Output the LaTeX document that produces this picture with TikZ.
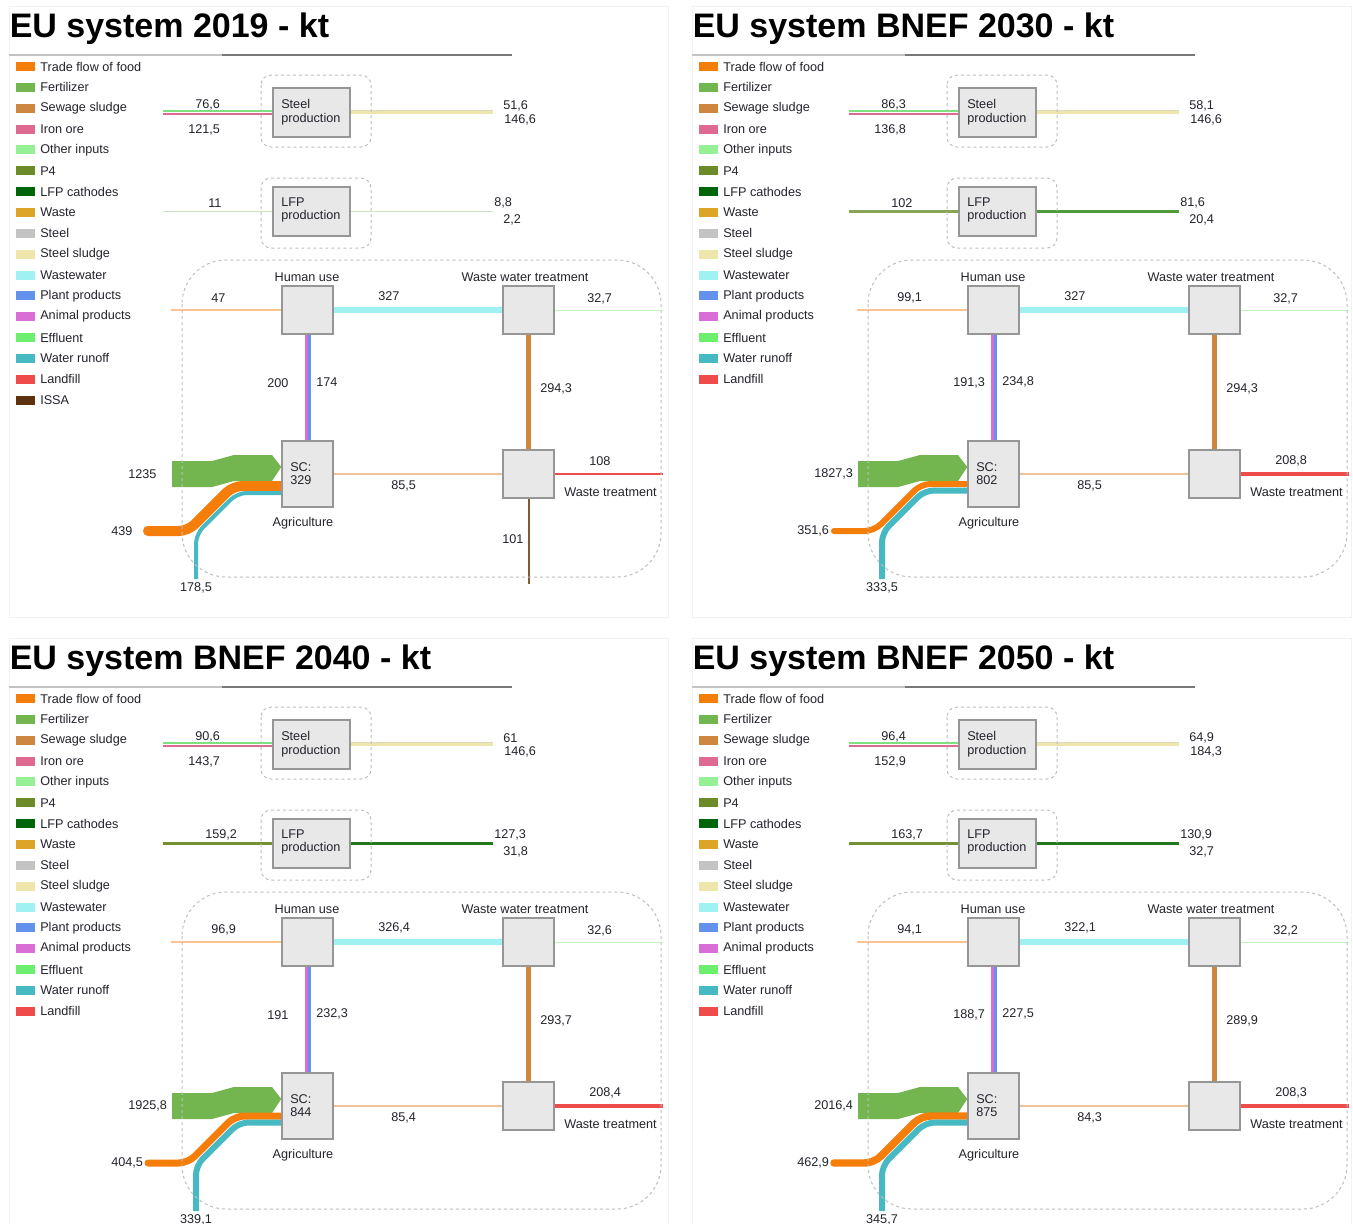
\documentclass[tikz,border=0pt]{standalone}
\usepackage{fontspec}
\setmainfont{Liberation Sans}
\usetikzlibrary{calc}
\pgfdeclarelayer{bgfill}
\pgfdeclarelayer{flows}
\pgfsetlayers{bgfill,flows,main}

\definecolor{cTrade}{RGB}{245,125,10}
\definecolor{cFert}{RGB}{115,182,80}
\definecolor{cSewage}{RGB}{205,135,65}
\definecolor{cIron}{RGB}{222,105,145}
\definecolor{cOther}{RGB}{150,240,150}
\definecolor{cOtherLine}{RGB}{125,225,125}
\definecolor{cPfour}{RGB}{107,140,40}
\definecolor{cLFP}{RGB}{0,100,10}
\definecolor{cWaste}{RGB}{220,165,40}
\definecolor{cSteel}{RGB}{195,195,195}
\definecolor{cSludge}{RGB}{238,230,170}
\definecolor{cWW}{RGB}{160,242,242}
\definecolor{cPlant}{RGB}{100,145,235}
\definecolor{cAnimal}{RGB}{218,110,215}
\definecolor{cEffl}{RGB}{110,238,110}
\definecolor{cRunoff}{RGB}{70,185,195}
\definecolor{cLandfill}{RGB}{240,75,75}
\definecolor{cISSA}{RGB}{95,50,15}
\definecolor{cFoodL}{RGB}{250,195,145}
\definecolor{cAgWT}{RGB}{238,195,155}
\definecolor{cEffL}{RGB}{195,245,195}
\definecolor{cLFPpale}{RGB}{205,228,190}
\definecolor{cISSAline}{RGB}{130,90,50}
\definecolor{cBoxFill}{RGB}{232,232,232}
\definecolor{cBoxLine}{RGB}{150,150,150}
\definecolor{cDash}{RGB}{190,190,190}
\definecolor{cText}{RGB}{35,35,45}
\definecolor{cRuleA}{RGB}{195,195,195}
\definecolor{cRuleB}{RGB}{120,120,120}
\definecolor{cFrame}{RGB}{242,242,242}
\definecolor{cSteelOut}{RGB}{222,218,190}

\tikzset{
  procbox/.style={draw=cBoxLine, fill=cBoxFill, line width=1.1pt, inner sep=0pt},
  smallbox/.style={procbox, minimum width=38.25pt, minimum height=36pt},
  prodbox/.style={procbox, minimum width=57.75pt, minimum height=36.75pt},
  agbox/.style={procbox, minimum width=38.25pt, minimum height=49.5pt},
  numlbl/.style={font=\fontsize{9.5}{11}\selectfont, text=cText, inner sep=0pt, anchor=west},
  boxlbl/.style={numlbl, align=left, font=\fontsize{9.5}{10.2}\selectfont},
  namelbl/.style={font=\fontsize{9.5}{11}\selectfont, text=cText, inner sep=0pt},
  legtext/.style={numlbl},
  titletext/.style={font=\fontsize{25.5}{28}\selectfont\bfseries, text=black, inner sep=0pt},
  dashframe/.style={draw=cDash, dash pattern=on 2.25pt off 2.25pt, line width=0.75pt},
}

\newcommand\drawpanel[4]{%
\begin{scope}[shift={(#2,#3)}]
\draw[cFrame, line width=0.75pt] (9,6) rectangle (668,617);
\node[titletext, anchor=base west] (#1title) at (9.5,37) {\pTitle};
\draw[cRuleA, line width=1.5pt] (9,55) -- (222,55);
\draw[cRuleB, line width=1.5pt] (222,55) -- (512,55);
\foreach \c/\t [count=\i from 0] in {cTrade/Trade flow of food,cFert/Fertilizer,cSewage/Sewage sludge,cIron/Iron ore,cOther/Other inputs,cPfour/P4,cLFP/LFP cathodes,cWaste/Waste,cSteel/Steel,cSludge/Steel sludge,cWW/Wastewater,cPlant/Plant products,cAnimal/Animal products,cEffl/Effluent,cRunoff/Water runoff,cLandfill/Landfill}{
  \fill[\c] (16,{66.5+20.85*\i-4.5}) rectangle (35,{66.5+20.85*\i+4.5});
  \node[legtext] (#1leg\i) at (40,{66.5+20.85*\i}) {\t};
}
\ifnum\pISSA=1
  \fill[cISSA] (16,{66.5+20.85*16-4.5}) rectangle (35,{66.5+20.85*16+4.5});
  \node[legtext] (#1leg16) at (40,{66.5+20.85*16}) {ISSA};
\fi
\begin{scope}[shift={(#4,0)}]
\draw[dashframe, rounded corners=7.5pt] (261,75) rectangle (371,147);
\draw[dashframe, rounded corners=7.5pt] (261,178) rectangle (371,248);
\draw[dashframe, rounded corners=33pt] (182,260) rectangle (661,577);
\node[prodbox] (#1steel) at (311.5,112.5) {};
\node[boxlbl] (#1steelt) at (281,112) {Steel\\production};
\node[prodbox] (#1lfp) at (311.5,211.5) {};
\node[boxlbl] (#1lfpt) at (281,210) {LFP\\production};
\node[smallbox] (#1hu) at (307.5,310) {};
\node[smallbox] (#1wwt) at (528.5,310) {};
\node[agbox] (#1ag) at (307.5,474) {};
\node[smallbox] (#1wt) at (528.5,474) {};
\node[namelbl] (#1hul) at (307,277) {Human use};
\node[namelbl] (#1wwtl) at (525,277) {Waste water treatment};
\node[namelbl] (#1agl) at (303,523) {Agriculture};
\node[numlbl] (#1wtl) at (564,492) {Waste treatment};
\node[boxlbl] (#1sc) at (290,473.5) {SC:\\\pSCv};
\coordinate (#1sin) at (163,112.5);
\coordinate (#1sout) at (493,112.5);
\coordinate (#1lin) at (163,211.5);
\coordinate (#1lout) at (493,211.5);
\coordinate (#1huin) at (171,310);
\coordinate (#1effout) at (663,310);
\coordinate (#1lfout) at (663,474);
\coordinate (#1issa) at (528.5,584);
\coordinate (#1trs) at (148,531);
\coordinate (#1rus) at (196,579);
\begin{pgfonlayer}{flows}
\draw[line width=1.3pt, cOtherLine] ($(#1sin)+(0,-1.2)$) -- ($(#1steel.west)+(0,-1.2)$);
\draw[line width=1.5pt, cIron] ($(#1sin)+(0,1)$) -- ($(#1steel.west)+(0,1)$);
\draw[line width=0.8pt, cSteelOut] ($(#1steel.east)+(0,-1.8)$) -- ($(#1sout)+(0,-1.8)$);
\draw[line width=2.4pt, cSludge] ($(#1steel.east)+(0,0.3)$) -- ($(#1sout)+(0,0.3)$);
\draw[lfpinline] (#1lin) -- (#1lfp.west);
\draw[lfpoutline] (#1lfp.east) -- (#1lout);
\draw[line width=\pHuW, cFoodL] (#1huin) -- (#1hu.west);
\draw[line width=4.5pt, cWW] (#1hu.east) -- (#1wwt.west);
\draw[line width=0.75pt, cEffL] (#1wwt.east) -- (#1effout);
\draw[line width=2.25pt, cAnimal] ($(#1hu.south)+(-1.5,0)$) -- ($(#1ag.north)+(-1.5,0)$);
\draw[line width=2.25pt, cPlant] ($(#1hu.south)+(1.5,0)$) -- ($(#1ag.north)+(1.5,0)$);
\draw[line width=3.75pt, cSewage] (#1wwt.south) -- (#1wt.north);
\draw[line width=1.9pt, cAgWT] (#1ag.east) -- (#1wt.west);
\draw[line width=\pLfW, cLandfill] (#1wt.east) -- (#1lfout);
\ifnum\pISSA=1
\draw[line width=1.5pt, cISSAline] (#1wt.south) -- (#1issa);
\fi
\fill[cFert] (172,461) -- (212,461) -- (234,455) -- (272,455) -- ($(#1ag.west)+(0,-7)$) -- (272,481) -- (234,481) -- (212,487) -- (172,487) -- cycle;
\draw[cTrade, line width=\pTrW, line cap=round, rounded corners=7pt] (#1trs) -- (188,531) -- ({719-474-\pTrO},{474+\pTrO}) -- ($(#1ag.west)+(0,\pTrO)$);
\draw[cRunoff, line width=\pRuW, rounded corners=7pt] (#1rus) -- (196,{\pRuK-196}) -- ({\pRuK-474-\pRuO},{474+\pRuO}) -- ($(#1ag.west)+(0,\pRuO)$);
\end{pgfonlayer}
\node[numlbl] (#1lSA) at (195,105) {\pSA};
\node[numlbl] (#1lSB) at (188,130) {\pSB};
\node[numlbl] (#1lSC) at (503,106) {\pSC};
\node[numlbl] (#1lSD) at (504,120) {\pSD};
\node[numlbl] (#1lLI) at (\pLIx,203) {\pLI};
\node[numlbl] (#1lLA) at (494,203) {\pLA};
\node[numlbl] (#1lLB) at (503,220) {\pLB};
\node[numlbl] (#1lHU) at (211,298) {\pHU};
\node[numlbl] (#1lWW) at (378,296) {\pWW};
\node[numlbl] (#1lEF) at (587,299) {\pEF};
\node[numlbl] (#1lAN) at (267,383) {\pAN};
\node[numlbl] (#1lPL) at (316,382) {\pPL};
\node[numlbl] (#1lSW) at (540,389) {\pSW};
\node[numlbl] (#1lFE) at (128,474) {\pFE};
\node[numlbl] (#1lTR) at (111,531) {\pTR};
\node[namelbl] (#1lRU) at (196,588) {\pRU};
\node[numlbl] (#1lAW) at (391,486) {\pAW};
\node[numlbl] (#1lLF) at (589,461) {\pLF};
\ifnum\pISSA=1
\node[numlbl] (#1lIS) at (502,539) {101};
\fi
\end{scope}
\end{scope}}

\begin{document}
\begin{tikzpicture}[x=0.75pt, y=-0.75pt]
\useasboundingbox (0,0) rectangle (1353,1224);
\clip (0,0) rectangle (1353,1224);
\begin{pgfonlayer}{bgfill}
\fill[white] (0,0) rectangle (1353,1224);
\end{pgfonlayer}

% ---------- 2019
\def\pTitle{EU system 2019 - kt}
\def\pSA{76,6}\def\pSB{121,5}\def\pSC{51,6}\def\pSD{146,6}
\def\pLI{11}\def\pLIx{208}\def\pLA{8,8}\def\pLB{2,2}
\def\pHU{47}\def\pWW{327}\def\pEF{32,7}
\def\pAN{200}\def\pPL{174}\def\pSW{294,3}
\def\pFE{1235}\def\pTR{439}\def\pRU{178,5}\def\pSCv{329}
\def\pAW{85,5}\def\pLF{108}\def\pISSA{1}
\def\pTrW{7.5pt}\def\pRuW{3pt}\def\pTrO{12}\def\pRuO{19}\def\pRuK{730.3}
\def\pHuW{1.5pt}\def\pLfW{1.9pt}
\tikzset{lfpinline/.style={line width=1.1pt, draw=cLFPpale}, lfpoutline/.style={line width=1.1pt, draw=cLFPpale}}
\drawpanel{a}{0}{0}{0}

% ---------- 2030
\def\pTitle{EU system BNEF 2030 - kt}
\def\pSA{86,3}\def\pSB{136,8}\def\pSC{58,1}\def\pSD{146,6}
\def\pLI{102}\def\pLIx{205}\def\pLA{81,6}\def\pLB{20,4}
\def\pHU{99,1}\def\pWW{327}\def\pEF{32,7}
\def\pAN{191,3}\def\pPL{234,8}\def\pSW{294,3}
\def\pFE{1827,3}\def\pTR{351,6}\def\pRU{333,5}\def\pSCv{802}
\def\pAW{85,5}\def\pLF{208,8}\def\pISSA{0}
\def\pTrW{4.5pt}\def\pRuW{4.5pt}\def\pTrO{10}\def\pRuO{16.5}\def\pRuK{728.9}
\def\pHuW{1.9pt}\def\pLfW{2.6pt}
\tikzset{lfpinline/.style={line width=2.25pt, draw={rgb,255:red,135;green,165;blue,85}}, lfpoutline/.style={line width=2.25pt, draw={rgb,255:red,80;green,155;blue,60}}}
\drawpanel{b}{683}{0}{3}

% ---------- 2040
\def\pTitle{EU system BNEF 2040 - kt}
\def\pSA{90,6}\def\pSB{143,7}\def\pSC{61}\def\pSD{146,6}
\def\pLI{159,2}\def\pLIx{205}\def\pLA{127,3}\def\pLB{31,8}
\def\pHU{96,9}\def\pWW{326,4}\def\pEF{32,6}
\def\pAN{191}\def\pPL{232,3}\def\pSW{293,7}
\def\pFE{1925,8}\def\pTR{404,5}\def\pRU{339,1}\def\pSCv{844}
\def\pAW{85,4}\def\pLF{208,4}\def\pISSA{0}
\def\pTrW{5.25pt}\def\pRuW{4.5pt}\def\pTrO{10}\def\pRuO{16.5}\def\pRuK{729.5}
\def\pHuW{1.9pt}\def\pLfW{2.6pt}
\tikzset{lfpinline/.style={line width=2.25pt, draw={rgb,255:red,115;green,145;blue,50}}, lfpoutline/.style={line width=2.25pt, draw={rgb,255:red,35;green,120;blue,30}}}
\drawpanel{c}{0}{632}{0}

% ---------- 2050
\def\pTitle{EU system BNEF 2050 - kt}
\def\pSA{96,4}\def\pSB{152,9}\def\pSC{64,9}\def\pSD{184,3}
\def\pLI{163,7}\def\pLIx{205}\def\pLA{130,9}\def\pLB{32,7}
\def\pHU{94,1}\def\pWW{322,1}\def\pEF{32,2}
\def\pAN{188,7}\def\pPL{227,5}\def\pSW{289,9}
\def\pFE{2016,4}\def\pTR{462,9}\def\pRU{345,7}\def\pSCv{875}
\def\pAW{84,3}\def\pLF{208,3}\def\pISSA{0}
\def\pTrW{5.6pt}\def\pRuW{4.5pt}\def\pTrO{10}\def\pRuO{16.5}\def\pRuK{729.8}
\def\pHuW{1.9pt}\def\pLfW{2.6pt}
\tikzset{lfpinline/.style={line width=2.25pt, draw={rgb,255:red,115;green,145;blue,50}}, lfpoutline/.style={line width=2.25pt, draw={rgb,255:red,35;green,120;blue,30}}}
\drawpanel{d}{683}{632}{3}
\end{tikzpicture}
\end{document}
